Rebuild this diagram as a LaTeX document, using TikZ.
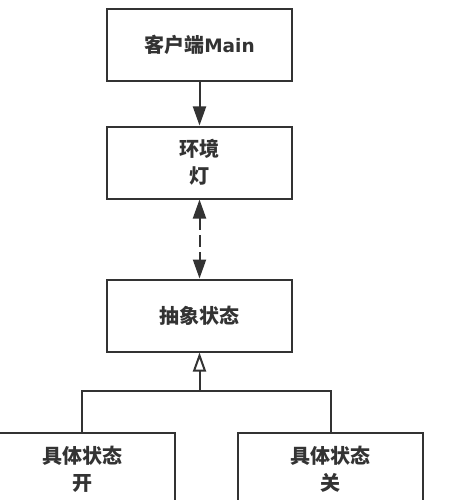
\documentclass[tikz,border=0pt]{standalone}
\usepackage{fontspec}
\setmainfont{Noto Sans CJK SC}
\newfontfamily\lat{DejaVu Sans}
\usetikzlibrary{arrows.meta}
\definecolor{ln}{HTML}{333333}
\tikzset{
  box/.style={draw=ln, line width=2pt, minimum width=185pt, minimum height=72pt, inner sep=0pt, align=center, font=\fontsize{20}{27}\selectfont\bfseries, text=ln},
  conn/.style={draw=ln, line width=2pt},
}
\begin{document}
\begin{tikzpicture}[x=1pt,y=-1pt]
\useasboundingbox (0,0) rectangle (448,500);
\clip (0,0) rectangle (448,500);
\node[box] (client) at (199.5,45) {客户端{\lat\fontsize{18.5}{27}\selectfont Main}};
\node[box] (env) at (199.5,162.5) {环境\\灯};
\node[box] (abs) at (199.5,315.5) {抽象状态};
\node[box] (on) at (82,469) {具体状态\\开};
\node[box] (off) at (330.5,469) {具体状态\\关};
\coordinate (jn) at (199.5,391);
\draw[conn, -{Triangle[length=19pt,width=13pt]}] (client) -- (env);
\draw[conn, dash pattern=on 12pt off 5pt, {Triangle[length=19pt,width=13pt]}-{Triangle[length=19pt,width=13pt]}] (env) -- (abs);
\draw[conn, -{Triangle[open,length=19pt,width=13pt]}] (jn) -- (abs);
\draw[conn] (on.north) |- (jn) -| (off.north);
\end{tikzpicture}
\end{document}
